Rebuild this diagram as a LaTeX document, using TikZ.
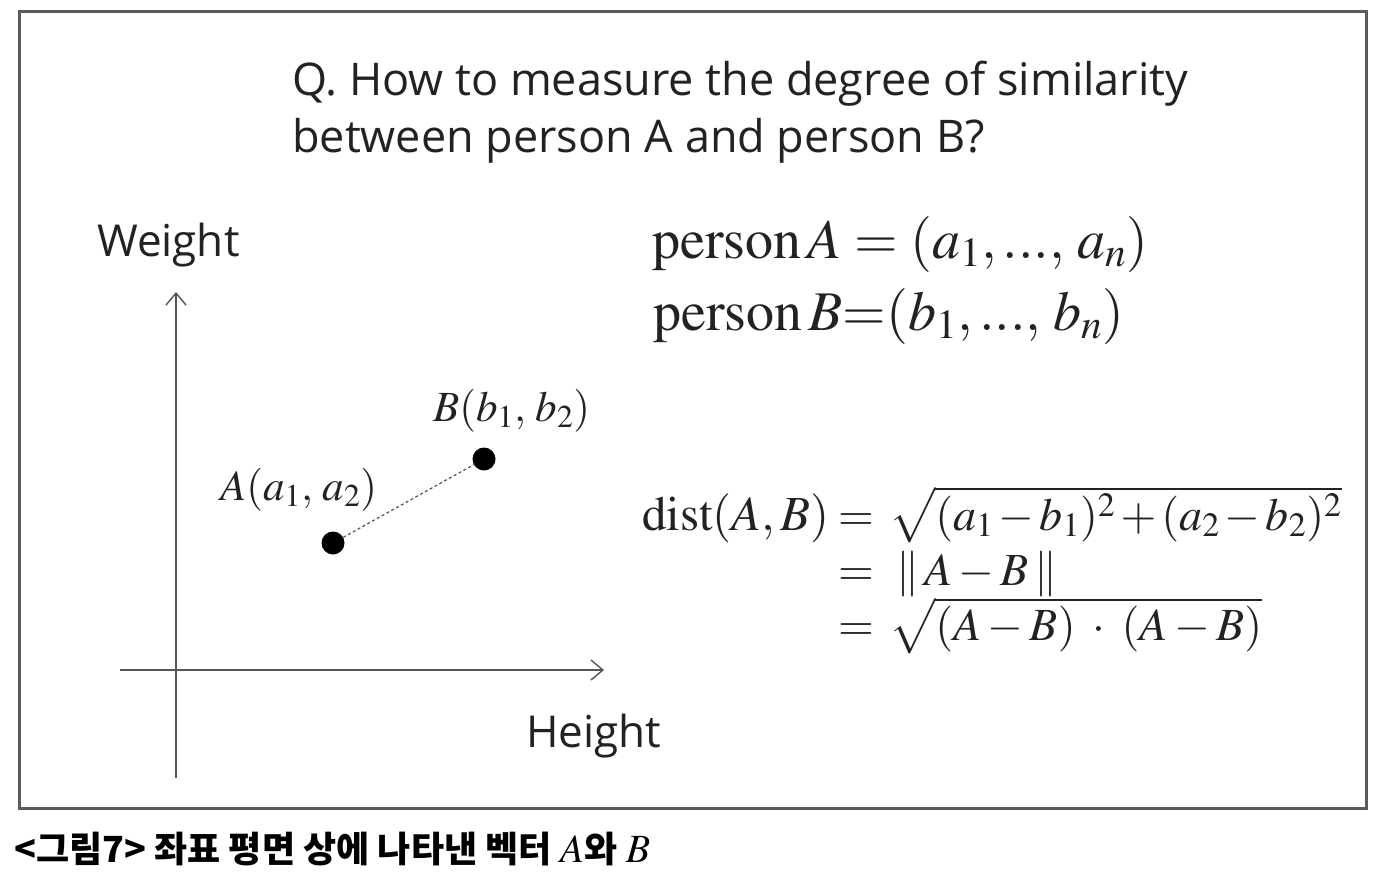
\documentclass[tikz,border=0pt]{standalone}
\usepackage{amsmath}
\usepackage{mathptmx}
\usepackage[no-math]{fontspec}
\setmainfont{Open Sans}
\newfontfamily\cjk{Noto Sans CJK KR}
\usetikzlibrary{arrows.meta,positioning}
\usepackage{xcolor}
\definecolor{framegray}{HTML}{5A5A5A}
\definecolor{axisgray}{HTML}{555555}
\definecolor{inkblack}{HTML}{222222}

\begin{document}
\begin{tikzpicture}[x=1pt, y=-1pt,
    every node/.style={
        inner sep=0pt,
        text=inkblack
    },
    sanslabel/.style={font=\fontsize{44}{52}\selectfont},
    mathbig/.style={font=\fontsize{56}{60}\selectfont},
    mathmid/.style={font=\fontsize{46}{54}\selectfont},
    mathsmall/.style={font=\fontsize{43}{48}\selectfont},
    pointdot/.style={circle, fill=black, minimum size=23pt},
    axis/.style={axisgray, line width=1.6pt, -{Straight Barb[length=12pt, width=20pt, line width=1.4pt]}}
]
    \useasboundingbox (0,0) rectangle (1394,888);
    \fill[white] (0,0) rectangle (1394,888);

    % frame
    \draw[framegray, line width=3pt] (19,12) rectangle (1366,808);

    % question
    \node (question_1) [anchor=base west, font=\fontsize{45}{55}\selectfont] at (292,96)
    {
        Q. How to measure the degree of similarity
    };
    \node (question_2) [anchor=base west, font=\fontsize{45}{55}\selectfont] at (292,152)
    {
        between person A and person B?
    };

    % axes
    \coordinate (y_start) at (176,778);
    \coordinate (y_end) at (176,292);
    \coordinate (x_start) at (120,670);
    \coordinate (x_end) at (604,670);
    \draw[axis] (y_start) -- (y_end);
    \draw[axis] (x_start) -- (x_end);

    \node (weight) [sanslabel, anchor=base west] at (97,256) {Weight};
    \node (height) [sanslabel, anchor=base west] at (526,747) {Height};

    % points
    \node (point_a) [pointdot] at (333,543) {};
    \node (point_b) [pointdot] at (484,459) {};
    \draw[axisgray, line width=1.2pt, dash pattern=on 3pt off 2.5pt] (point_a) -- (point_b);

    \node (label_a) [mathsmall, anchor=base west] at (220,500) {$A(a_1,\, a_2)$};
    \node (label_b) [mathsmall, anchor=base west] at (433,421) {$B(b_1,\, b_2)$};

    % vectors
    \node (person_a) [mathbig, anchor=base west] at (652,258)
    {
        $\mathrm{person}\,A = (a_1, \mathrm{...},\, a_n)$
    };
    \node (person_b) [mathbig, anchor=base west] at (653,330)
    {
        $\mathrm{person}\,B {=} (b_1, \mathrm{...},\, b_n)$
    };

    % distance
    \node (dist_lhs) [font=\fontsize{49}{54}\selectfont, anchor=base east] at (830,530)
    {
        $\mathrm{dist}(A,B)$
    };
    \node (dist_rhs) [mathmid, anchor=base west] at (838,530)
    {
        $=\, \medmuskip=2mu \sqrt{(a_1-b_1)^2+(a_2-b_2)^2}$
    };
    \node (dist_norm) [mathmid, anchor=base west] at (838,585)
    {
        $=\ \|\, A-B \,\|$
    };
    \node (dist_dot) [mathmid, anchor=base west] at (838,640)
    {
        $=\, \sqrt{(A-B)\;\cdot\;(A-B)}$
    };

    % caption
    \node (caption) [anchor=base west, font=\cjk\bfseries\fontsize{36}{40}\selectfont, text=black] at (14,862)
    {
        <그림7> 좌표 평면 상에 나타낸 벡터 {\fontsize{40}{40}\selectfont$A$}와 {\fontsize{40}{40}\selectfont$B$}
    };
\end{tikzpicture}
\end{document}
